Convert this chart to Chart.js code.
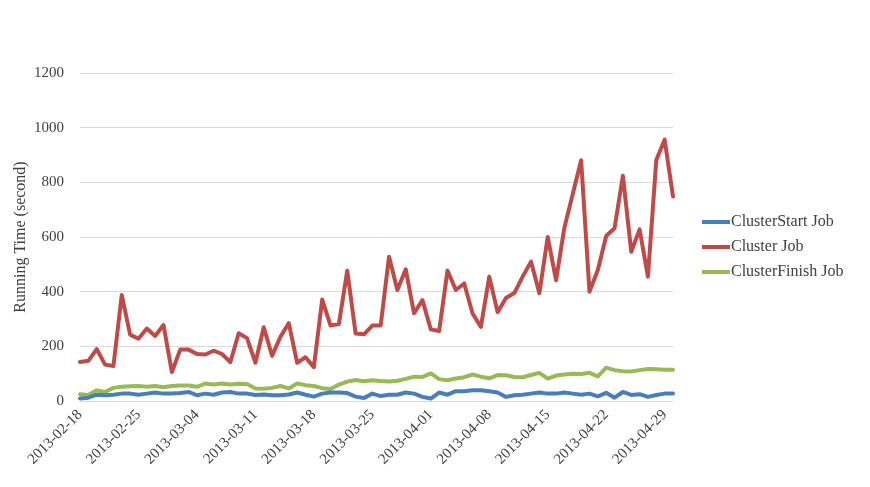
<!DOCTYPE html>
<html>
<head>
<meta charset="utf-8">
<script src="https://cdn.jsdelivr.net/npm/chart.js@4.4.1/dist/chart.umd.min.js"></script>
<style>
  html, body { margin: 0; padding: 0; background: #fff; }
  #wrap { width: 870px; height: 487px; position: relative; }
</style>
</head>
<body>
<div id="wrap"><canvas id="chart"></canvas></div>
<script>
(function () {
  "use strict";

  // One category per day, 2013-02-18 .. 2013-04-30.
  var DAYS = [
    "2013-02-18", "2013-02-19", "2013-02-20", "2013-02-21", "2013-02-22", "2013-02-23", "2013-02-24",
    "2013-02-25", "2013-02-26", "2013-02-27", "2013-02-28", "2013-03-01", "2013-03-02", "2013-03-03",
    "2013-03-04", "2013-03-05", "2013-03-06", "2013-03-07", "2013-03-08", "2013-03-09", "2013-03-10",
    "2013-03-11", "2013-03-12", "2013-03-13", "2013-03-14", "2013-03-15", "2013-03-16", "2013-03-17",
    "2013-03-18", "2013-03-19", "2013-03-20", "2013-03-21", "2013-03-22", "2013-03-23", "2013-03-24",
    "2013-03-25", "2013-03-26", "2013-03-27", "2013-03-28", "2013-03-29", "2013-03-30", "2013-03-31",
    "2013-04-01", "2013-04-02", "2013-04-03", "2013-04-04", "2013-04-05", "2013-04-06", "2013-04-07",
    "2013-04-08", "2013-04-09", "2013-04-10", "2013-04-11", "2013-04-12", "2013-04-13", "2013-04-14",
    "2013-04-15", "2013-04-16", "2013-04-17", "2013-04-18", "2013-04-19", "2013-04-20", "2013-04-21",
    "2013-04-22", "2013-04-23", "2013-04-24", "2013-04-25", "2013-04-26", "2013-04-27", "2013-04-28",
    "2013-04-29", "2013-04-30"
  ];

  // Only the Mondays get a label on the x axis.
  var TICK_LABELS = [
    "2013-02-18", "2013-02-25", "2013-03-04", "2013-03-11", "2013-03-18",
    "2013-03-25", "2013-04-01", "2013-04-08", "2013-04-15", "2013-04-22", "2013-04-29"
  ];

  var START_JOB = [
    9, 12, 23, 21, 23, 27, 27, 23, 27, 31, 27, 27, 29, 33, 21, 27, 23, 31,
    33, 27, 27, 22, 24, 21, 21, 24, 31, 23, 16, 27, 31, 31, 29, 16, 11, 27,
    18, 23, 23, 31, 27, 15, 9, 31, 23, 36, 36, 39, 39, 36, 31, 15,
    21, 23, 27, 31, 27, 27, 31, 27, 23, 27, 17, 30, 12, 33, 22, 25, 15, 22, 27, 27
  ];

  var CLUSTER_JOB = [
    143, 147, 190, 133, 128, 388, 243, 228, 265, 238, 278, 106, 188, 188, 172, 170, 184, 172,
    142, 248, 230, 140, 270, 165, 235, 285, 140, 160, 124, 371, 276, 282, 477, 247, 244, 276,
    276, 528, 406, 482, 321, 369, 262, 256, 477, 406, 430, 320, 271, 455, 325, 377, 395, 455,
    510, 394, 600, 442, 635, 757, 881, 400, 479, 604, 632, 824, 546, 628, 455, 882, 956, 748
  ];

  var FINISH_JOB = [
    25, 22, 39, 33, 48, 52, 54, 55, 52, 55, 50, 55, 57, 57, 52, 64, 60, 64,
    60, 63, 62, 46, 45, 48, 55, 46, 64, 58, 55, 47, 44, 60, 71, 77, 72, 76,
    73, 71, 74, 81, 89, 88, 101, 80, 76, 82, 87, 97, 89, 83, 95, 94,
    88, 87, 95, 103, 82, 93, 97, 100, 99, 103, 90, 122, 113, 109, 108, 113, 117, 116, 114, 114
  ];

  var SERIES_NAMES = ["ClusterStart Job", "Cluster Job", "ClusterFinish Job"];
  var SERIES_COLORS = ["#4A7EBB", "#BE4B48", "#98B954"];

  var FONT = "'Times New Roman', 'Liberation Serif', serif";
  var TEXT_COLOR = "#404040";

  // Legend drawn by hand so the line samples sit a fixed gap right of the plot.
  var sideLegendPlugin = {
    id: "sideLegend",
    afterDraw: function (chart) {
      var area = chart.chartArea;
      var c = chart.ctx;
      var sets = chart.data.datasets;
      var x = area.right + 29;
      var y0 = (area.top + area.bottom) / 2 + 10 - (sets.length - 1) * 12.5;
      c.save();
      c.font = "16px " + FONT;
      c.textBaseline = "middle";
      c.textAlign = "left";
      c.fillStyle = TEXT_COLOR;
      sets.forEach(function (ds, i) {
        var y = y0 + i * 25;
        c.strokeStyle = ds.borderColor;
        c.lineWidth = 4;
        c.beginPath();
        c.moveTo(x, y);
        c.lineTo(x + 28, y);
        c.stroke();
        c.fillText(ds.label, x + 29, y);
      });
      c.restore();
    }
  };

  function series(i, values) {
    return {
      label: SERIES_NAMES[i],
      data: values,
      borderColor: SERIES_COLORS[i],
      backgroundColor: SERIES_COLORS[i],
      borderWidth: 4,
      pointRadius: 0,
      tension: 0,
      fill: false,
      borderJoinStyle: "round",
      borderCapStyle: "round"
    };
  }

  new Chart(document.getElementById("chart").getContext("2d"), {
    type: "line",
    plugins: [sideLegendPlugin],
    data: {
      labels: DAYS,
      datasets: [
        series(0, START_JOB),
        series(1, CLUSTER_JOB),
        series(2, FINISH_JOB)
      ]
    },
    options: {
      responsive: true,
      maintainAspectRatio: false,
      animation: false,
      layout: { padding: { top: 73, right: 197, bottom: 0, left: 0 } },
      plugins: {
        legend: { display: false },
        tooltip: { enabled: false }
      },
      scales: {
        x: {
          offset: false,
          grid: { display: false, drawTicks: false },
          border: { display: false },
          afterFit: function (scale) { scale.height = 86; },
          ticks: {
            autoSkip: false,
            maxRotation: 45,
            minRotation: 45,
            padding: 5,
            color: TEXT_COLOR,
            font: { family: FONT, size: 15 },
            callback: function (value) {
              var lab = this.getLabelForValue(value);
              return TICK_LABELS.indexOf(lab) >= 0 ? lab : "";
            }
          }
        },
        y: {
          min: 0,
          max: 1200,
          afterFit: function (scale) { scale.width = 80; },
          grid: { color: "#D9D9D9", lineWidth: 1, drawTicks: false },
          border: { display: false },
          ticks: {
            stepSize: 200,
            padding: 16,
            color: TEXT_COLOR,
            font: { family: FONT, size: 15 },
            callback: function (value) { return String(value); }
          },
          title: {
            display: true,
            text: "Running Time (second)",
            color: TEXT_COLOR,
            font: { family: FONT, size: 16 },
            padding: { top: 11, bottom: 0 }
          }
        }
      }
    }
  });
})();
</script>
</body>
</html>
